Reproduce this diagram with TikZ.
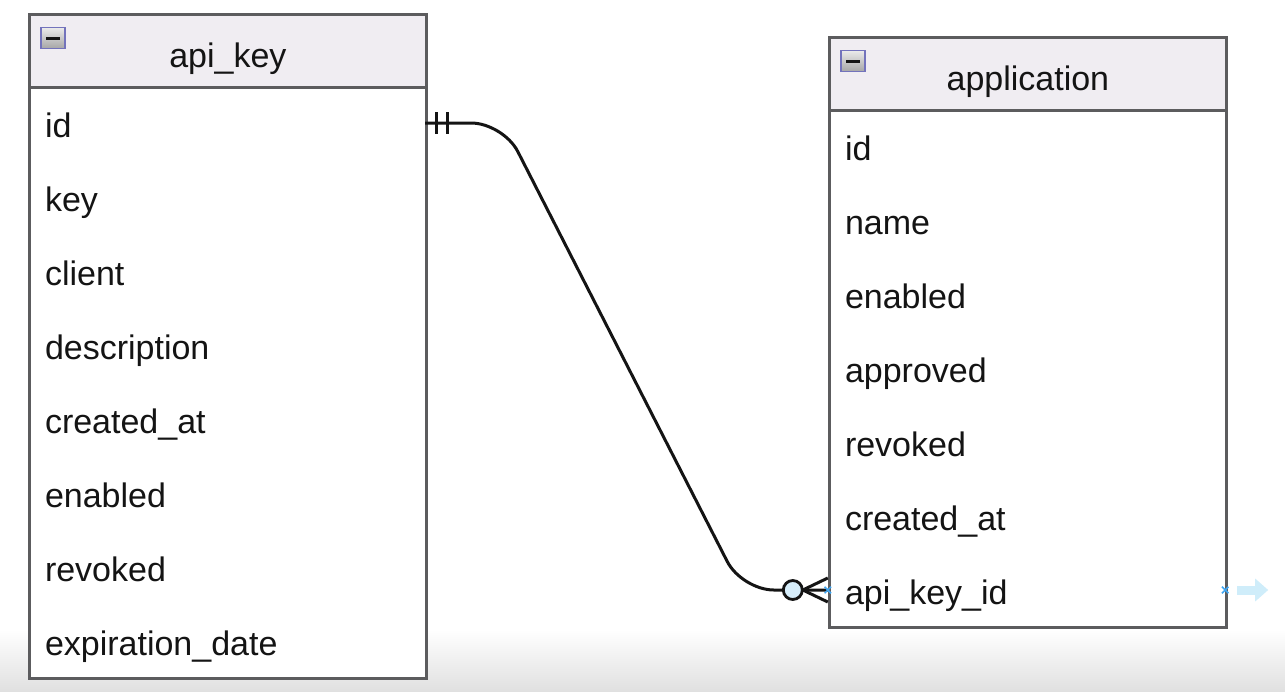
\documentclass[tikz,border=0pt]{standalone}
\usepackage{fontspec}
\setmainfont{Liberation Sans}
\usetikzlibrary{arrows.meta,calc,shadows,shapes.misc}
\definecolor{BorderClr}{rgb}{0.36,0.36,0.37}
\definecolor{HeadClr}{rgb}{0.94,0.93,0.95}
\definecolor{TextClr}{rgb}{0.08,0.08,0.08}
\definecolor{CircleClr}{rgb}{0.84,0.93,0.98}
\definecolor{HintClr}{rgb}{0.25,0.65,0.95}
\definecolor{ArrowClr}{rgb}{0.81,0.93,0.98}

\begin{document}
\begin{tikzpicture}[x=1pt,y=-1pt,
  table/.style={draw=BorderClr,line width=2.8pt,fill=white,minimum width=397pt,anchor=north west,inner sep=0pt,
    drop shadow={shadow xshift=1.5pt,shadow yshift=-2pt,fill=black,opacity=0.3}},
  head/.style={draw=BorderClr,line width=2.8pt,fill=HeadClr,minimum width=397pt,minimum height=73pt,anchor=north west,inner sep=0pt},
  title/.style={text=TextClr,font=\fontsize{34}{40}\selectfont,text height=31pt,text depth=3pt,inner sep=0pt,yshift=-3pt},
  field/.style={text=TextClr,font=\fontsize{34}{40}\selectfont,minimum width=397pt,minimum height=74pt,text width=363pt,
    align=left,text height=31pt,text depth=3pt,inner xsep=17pt,inner ysep=0pt},
  icon/.style={draw=BorderClr!60!blue!70!white,line width=1.5pt,top color=black!8,bottom color=black!35,
    minimum width=24pt,minimum height=21pt,inner sep=0pt},
  conn/.style={line width=3pt,color=black!92},
  hint/.style={cross out,draw=HintClr,line width=1.5pt,minimum size=5pt,inner sep=0pt}]

\useasboundingbox (0,0) rectangle (1285,691);
\fill[white] (0,0) rectangle (1285,691);
\shade[top color=white,bottom color=black!12] (0,630) rectangle (1285,691);

% api_key table
\node[table,minimum height=664pt] (apikey) at (28,13) {};
\node[head] (akhead) at (28,13) {};
\node[title] (akname) at (akhead.center) {api\_key};
\node[icon] (akicon) at (53,38) {};
\draw[line width=3pt,TextClr] ($(akicon.center)+(-7,0)$) -- ($(akicon.center)+(7,0)$);

\node[field] (akid) at (226.5,123) {id};
\node[field] (akkey) at (226.5,197) {key};
\node[field] (akclient) at (226.5,271) {client};
\node[field] (akdesc) at (226.5,345) {description};
\node[field] (akcreated) at (226.5,419) {created\_at};
\node[field] (akenabled) at (226.5,493) {enabled};
\node[field] (akrevoked) at (226.5,567) {revoked};
\node[field] (akexpire) at (226.5,641) {expiration\_date};

% application table
\node[table,minimum height=590pt] (app) at (828,36) {};
\node[head] (apphead) at (828,36) {};
\node[title] (appname) at (apphead.center) {application};
\node[icon] (appicon) at (853,61) {};
\draw[line width=3pt,TextClr] ($(appicon.center)+(-7,0)$) -- ($(appicon.center)+(7,0)$);

\node[field] (appid) at (1026.5,146) {id};
\node[field] (appfname) at (1026.5,220) {name};
\node[field] (appenabled) at (1026.5,294) {enabled};
\node[field] (appapproved) at (1026.5,368) {approved};
\node[field] (apprevoked) at (1026.5,442) {revoked};
\node[field] (appcreated) at (1026.5,516) {created\_at};
\node[field] (appapi) at (1026.5,590) {api\_key\_id};

% relation
\draw[conn,rounded corners=32pt] (akid.east) -- ++(78,0) -- ($(appapi.west)+(-86,0)$) -- (appapi.west);
\draw[conn] ($(akid.east)+(11,-11)$) -- ++(0,22);
\draw[conn] ($(akid.east)+(22,-11)$) -- ++(0,22);
\node[circle,draw=black!92,line width=2.8pt,fill=CircleClr,minimum size=19pt,inner sep=0pt] (zero) at ($(appapi.west)+(-35,0)$) {};
\coordinate (fork) at ($(appapi.west)+(-25,0)$);
\draw[conn] (fork) -- ($(appapi.west)+(0,-12)$);
\draw[conn] (fork) -- ($(appapi.west)+(0,12)$);

% hover hints
\node[hint] (hintl) at (appapi.west) {};
\node[hint] (hintr) at (appapi.east) {};
\coordinate (hintstart) at ($(appapi.east)+(12,0)$);
\coordinate (hintend) at ($(appapi.east)+(43,0)$);
\draw[line width=9pt,ArrowClr,-{Triangle[length=13pt,width=22pt]}] (hintstart) -- (hintend);

\end{tikzpicture}
\end{document}
